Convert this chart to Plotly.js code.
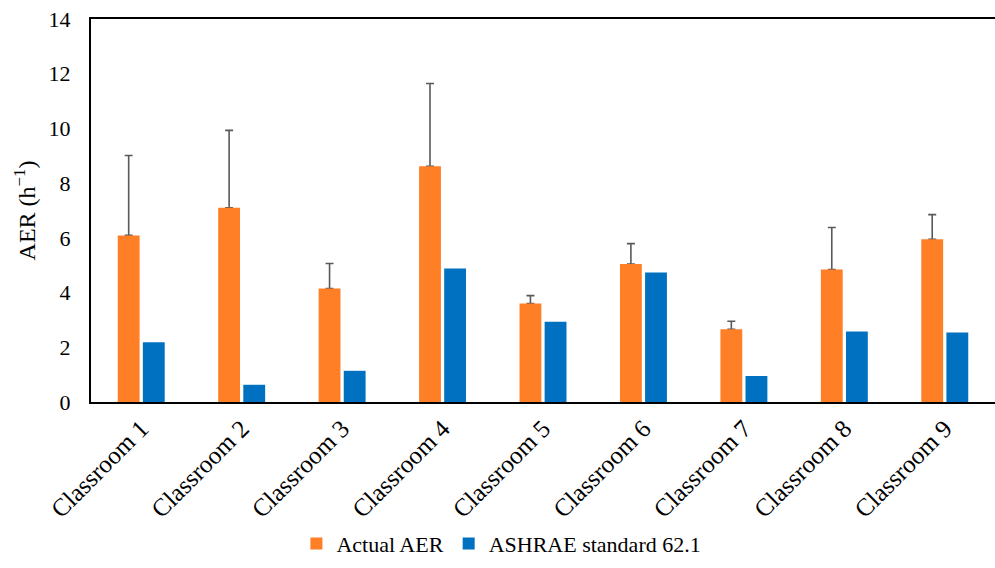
<!DOCTYPE html>
<html><head><meta charset="utf-8">
<script src="https://cdn.plot.ly/plotly-3.0.1.min.js"></script>
<style>html,body{margin:0;padding:0;background:#fff}#chart{width:995px;height:568px}</style>
</head><body><div id="chart"></div>
<script>
const categories = ["Classroom 1","Classroom 2","Classroom 3","Classroom 4","Classroom 5","Classroom 6","Classroom 7","Classroom 8","Classroom 9"];
const actualAER = [6.09, 7.10, 4.15, 8.62, 3.60, 5.04, 2.66, 4.84, 5.95];
const actualErrPlus = [2.92, 2.83, 0.91, 3.02, 0.29, 0.75, 0.29, 1.54, 0.90];
const ashrae = [2.18, 0.63, 1.14, 4.88, 2.93, 4.73, 0.95, 2.58, 2.54];
const seriesNames = ["Actual AER", "ASHRAE standard 62.1"];

const font = "Liberation Serif, Times New Roman, serif";
const traces = [
  // carrier for the upward-only error bars, drawn beneath the orange bars
  {type:'bar', name:'err', x:categories, y:actualAER, offsetgroup:'a', showlegend:false,
   marker:{color:'rgba(0,0,0,0)', line:{width:0}},
   error_y:{type:'data', symmetric:false, array:actualErrPlus, arrayminus:actualErrPlus.map(()=>0), color:'#595959', thickness:1.6, width:4}},
  {type:'bar', name:seriesNames[0], x:categories, y:actualAER, offsetgroup:'a',
   marker:{color:'#FF7F27', line:{width:0}}},
  {type:'bar', name:seriesNames[1], x:categories, y:ashrae, offsetgroup:'b',
   marker:{color:'#0070C0', line:{width:0}}}
];
const layout = {
  width:995, height:568,
  margin:{l:91, r:0, t:19, b:166, autoexpand:false},
  paper_bgcolor:'#fff', plot_bgcolor:'#fff',
  barmode:'group', bargap:0.5, bargroupgap:0.13,
  font:{family:font, color:'#000', size:22},
  showlegend:true,
  legend:{orientation:'h', x:0.454, xanchor:'center', y:-0.425, yanchor:'bottom', font:{size:22, family:font}, itemwidth:30, traceorder:'normal'},
  xaxis:{type:'category', tickangle:-45, automargin:false, showline:true, linecolor:'#000', linewidth:2, mirror:true, ticks:'', showgrid:false, tickfont:{size:25, family:font}},
  yaxis:{range:[0,14], dtick:2, automargin:false, showline:true, linecolor:'#000', linewidth:2, mirror:false, ticks:'', showgrid:false, zeroline:false, ticklabelstandoff:14, tickfont:{size:22, family:font},
    title:{text:'AER (h<sup>−1</sup>)', font:{size:24, family:font}, standoff:6}}
};
Plotly.newPlot('chart', traces, layout, {displayModeBar:false, staticPlot:true});
</script></body></html>
